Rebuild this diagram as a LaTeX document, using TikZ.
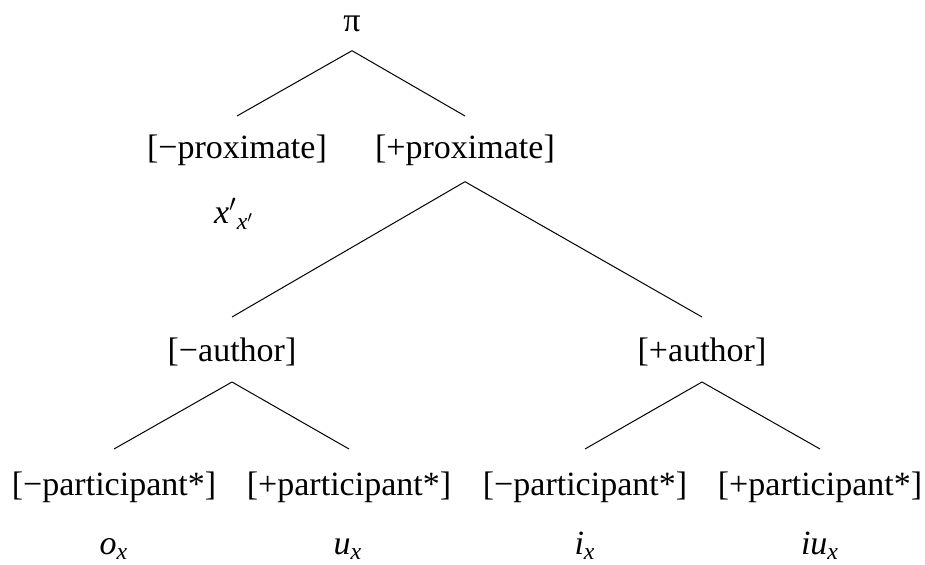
\documentclass[tikz,border=0pt]{standalone}
\usepackage{amsmath}
\usepackage{fontspec}
\setmainfont{Liberation Serif}
\begin{document}
\begin{tikzpicture}[x=0.5pt,y=-0.5pt,
  lab/.style={anchor=base,inner sep=0pt,font=\fontsize{17}{20}\selectfont},
  edge/.style={line width=0.5pt,draw=black}]
\useasboundingbox (0,0) rectangle (925,565);
\node[lab] (pi) at (352,32) {π};
\node[lab] (mprox) at (237,159) {[−proximate]};
\node[lab] (pprox) at (465,159) {[+proximate]};
\node[lab] (xp) at (234,224) {${\textit{x}'}_{\textit{x}'}$};
\node[lab] (mauth) at (232,362) {[−author]};
\node[lab] (pauth) at (702,362) {[+author]};
\node[lab] (p1) at (114,496) {[−participant*]};
\node[lab] (p2) at (349,496) {[+participant*]};
\node[lab] (p3) at (585,496) {[−participant*]};
\node[lab] (p4) at (820,496) {[+participant*]};
\node[lab] (l1) at (114,554) {$\textit{o}_{\textit{x}}$};
\node[lab] (l2) at (348,554) {$\textit{u}_{\textit{x}}$};
\node[lab] (l3) at (585,554) {$\textit{i}_{\textit{x}}$};
\node[lab] (l4) at (820,554) {$\textit{iu}_{\textit{x}}$};
% edges
\draw[edge] ([yshift=-9.35pt]pi.base) -- ([yshift=21.5pt]mprox.base);
\draw[edge] ([yshift=-9.35pt]pi.base) -- ([yshift=21.5pt]pprox.base);
\draw[edge] ([yshift=-11.35pt]pprox.base) -- ([yshift=22.5pt]mauth.base);
\draw[edge] ([yshift=-11.35pt]pprox.base) -- ([yshift=22.5pt]pauth.base);
\draw[edge] ([yshift=-10pt]mauth.base) -- ([yshift=23.5pt]p1.base);
\draw[edge] ([yshift=-10pt]mauth.base) -- ([yshift=23.5pt]p2.base);
\draw[edge] ([yshift=-10pt]pauth.base) -- ([yshift=23.5pt]p3.base);
\draw[edge] ([yshift=-10pt]pauth.base) -- ([yshift=23.5pt]p4.base);
\end{tikzpicture}
\end{document}
